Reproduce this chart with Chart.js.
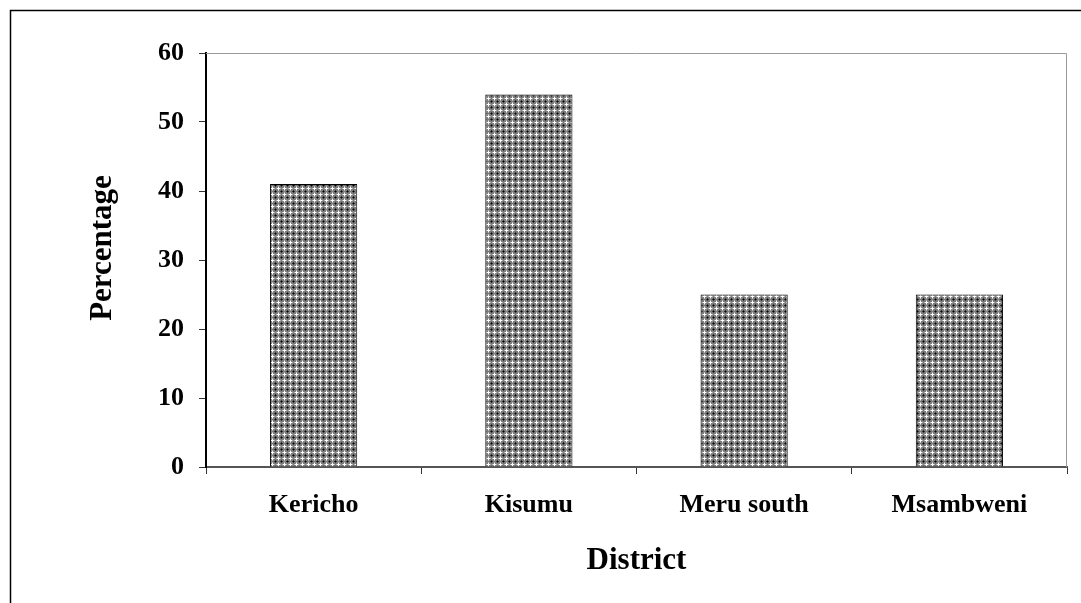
<!DOCTYPE html>
<html>
<head>
<meta charset="utf-8">
<script src="https://cdn.jsdelivr.net/npm/chart.js@4"></script>
<style>
  html, body { margin: 0; padding: 0; background: #fff; }
  #wrap { width: 1081px; height: 603px; }
</style>
</head>
<body>
<div id="wrap"><canvas id="districtChart" width="1081" height="603"></canvas></div>
<script>
var districts = ["Kericho", "Kisumu", "Meru south", "Msambweni"];
var percentages = [41, 54, 25, 25];
var yTicks = [0, 10, 20, 30, 40, 50, 60];

var serif = "'Liberation Serif', 'Times New Roman', serif";

// small checkered tile for the bar fill: white plus signs, dark dots between
function makeHatch() {
  var c = document.createElement("canvas");
  c.width = 6;
  c.height = 6;
  var g = c.getContext("2d");
  g.fillStyle = "#7c7c7c";
  g.fillRect(0, 0, 6, 6);
  g.fillStyle = "#ffffff";
  g.fillRect(2, 1, 1, 3);
  g.fillRect(1, 2, 3, 1);
  g.fillStyle = "#3a3a3a";
  g.fillRect(5, 4, 1, 1);
  g.fillRect(4, 5, 1, 1);
  g.fillRect(5, 0, 1, 1);
  g.fillRect(0, 5, 1, 1);
  g.fillStyle = "#000000";
  g.fillRect(5, 5, 1, 1);
  g.fillStyle = "#b8b8b8";
  g.fillRect(2, 0, 1, 1);
  g.fillRect(0, 2, 1, 1);
  g.fillRect(4, 2, 1, 1);
  g.fillRect(2, 4, 1, 1);
  return c;
}

var ctx = document.getElementById("districtChart").getContext("2d");
var hatch = ctx.createPattern(makeHatch(), "repeat");

// page frame, grey border on top/right of the plot, and the y title
var framePlugin = {
  id: "framePlugin",
  beforeDraw: function (chart) {
    var c = chart.ctx;
    c.save();
    c.fillStyle = "#fff";
    c.fillRect(0, 0, chart.width, chart.height);
    c.strokeStyle = "#000";
    c.lineWidth = 1.5;
    c.beginPath();
    c.moveTo(10.5, chart.height);
    c.lineTo(10.5, 10.5);
    c.lineTo(chart.width, 10.5);
    c.stroke();
    c.restore();
  },
  afterDraw: function (chart) {
    var a = chart.chartArea;
    var c = chart.ctx;
    c.save();
    c.strokeStyle = "#9a9a9a";
    c.lineWidth = 1;
    c.beginPath();
    c.moveTo(a.left, a.top + 0.5);
    c.lineTo(a.right - 0.5, a.top + 0.5);
    c.lineTo(a.right - 0.5, a.bottom);
    c.stroke();
    c.translate(111, 248);
    c.rotate(-Math.PI / 2);
    c.fillStyle = "#000";
    c.font = "bold 31px " + serif;
    c.textAlign = "center";
    c.textBaseline = "alphabetic";
    c.fillText("Percentage", 0, 0);
    c.restore();
  },
};

var districtChart = new Chart(ctx, {
  type: "bar",
  data: {
    labels: districts,
    datasets: [
      {
        label: "Percentage",
        data: percentages,
        backgroundColor: hatch,
        borderColor: "#000",
        borderWidth: 1,
        barPercentage: 0.405,
        categoryPercentage: 1,
      },
    ],
  },
  options: {
    responsive: false,
    animation: false,
    layout: {
      padding: { top: 53, right: 14, left: 0, bottom: 0 },
    },
    plugins: {
      legend: { display: false },
      tooltip: { enabled: false },
    },
    scales: {
      x: {
        afterFit: function (scale) {
          scale.height = 136;
        },
        grid: {
          offset: true,
          drawOnChartArea: false,
          drawTicks: true,
          tickLength: 7,
          tickColor: "#333",
        },
        border: { color: "#555", width: 2 },
        ticks: {
          color: "#000",
          font: { family: serif, size: 26, weight: "bold" },
          padding: 16,
          maxRotation: 0,
        },
        title: {
          display: true,
          text: "District",
          color: "#000",
          font: { family: serif, size: 31, weight: "bold" },
          padding: { top: 0, bottom: 23 },
        },
      },
      y: {
        min: 0,
        max: 60,
        afterFit: function (scale) {
          scale.width = 206;
        },
        afterBuildTicks: function (scale) {
          scale.ticks = yTicks.map(function (v) {
            return { value: v };
          });
        },
        grid: {
          drawOnChartArea: false,
          drawTicks: true,
          tickLength: 7,
          tickColor: "#333",
        },
        border: { color: "#000", width: 2 },
        ticks: {
          color: "#000",
          font: { family: serif, size: 26, weight: "bold" },
          padding: 15,
        },
      },
    },
  },
  plugins: [framePlugin],
});
</script>
</body>
</html>
